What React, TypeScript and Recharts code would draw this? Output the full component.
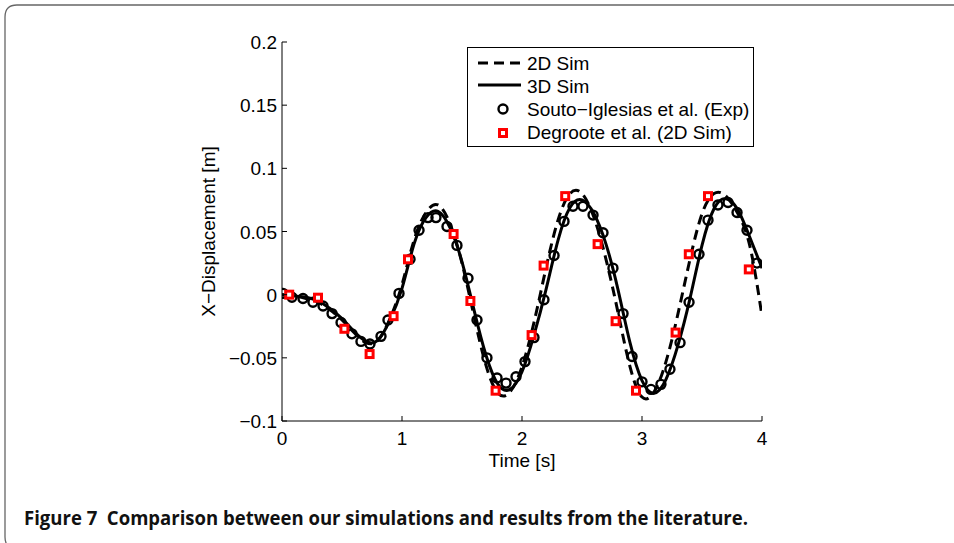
import React from 'react';
import { ComposedChart, Line, Scatter, XAxis, YAxis, Legend } from 'recharts';

// ---- data ----
const simTimes = [
  0.0, 0.1, 0.2, 0.3, 0.4, 0.5, 0.6, 0.7, 0.8, 0.9,
  1.0, 1.1, 1.2, 1.3, 1.4, 1.5, 1.6, 1.7, 1.8, 1.9,
  2.0, 2.1, 2.2, 2.3, 2.4, 2.5, 2.6, 2.7, 2.8, 2.9,
  3.0, 3.1, 3.2, 3.3, 3.4, 3.5, 3.6, 3.7, 3.8, 3.9, 4.0,
];
const sim2D = [
  0.0, -0.001, -0.003, -0.006, -0.012, -0.02, -0.03, -0.038, -0.036, -0.019,
  0.008, 0.043, 0.065, 0.071, 0.056, 0.025, -0.017, -0.056, -0.078, -0.077,
  -0.057, -0.022, 0.021, 0.059, 0.08, 0.08, 0.061, 0.028, -0.014, -0.057,
  -0.081, -0.077, -0.053, -0.015, 0.028, 0.064, 0.08, 0.078, 0.064, 0.038, -0.017,
];
const sim3D = [
  0.0, -0.001, -0.002, -0.005, -0.011, -0.019, -0.029, -0.037, -0.036, -0.02,
  0.005, 0.04, 0.061, 0.066, 0.053, 0.026, -0.012, -0.048, -0.071, -0.075,
  -0.061, -0.032, 0.004, 0.043, 0.069, 0.075, 0.064, 0.04, 0.004, -0.038,
  -0.068, -0.078, -0.067, -0.04, -0.003, 0.039, 0.068, 0.076, 0.067, 0.045, 0.021,
];
const expTimes = [
  0.008, 0.083, 0.175, 0.258, 0.342, 0.417, 0.492, 0.583, 0.658, 0.733,
  0.825, 0.883, 0.975, 1.067, 1.142, 1.217, 1.283, 1.375, 1.458, 1.55,
  1.625, 1.708, 1.792, 1.867, 1.95, 2.025, 2.1, 2.183, 2.267, 2.35,
  2.425, 2.508, 2.592, 2.675, 2.758, 2.842, 2.917, 3.0, 3.075, 3.158,
  3.233, 3.317, 3.392, 3.475, 3.55, 3.633, 3.717, 3.792, 3.875, 3.958,
];
const expValues = [
  0.001, -0.002, -0.003, -0.006, -0.009, -0.015, -0.022, -0.031, -0.037, -0.039,
  -0.033, -0.02, 0.001, 0.028, 0.051, 0.061, 0.061, 0.054, 0.039, 0.013,
  -0.02, -0.05, -0.066, -0.07, -0.065, -0.053, -0.034, -0.004, 0.031, 0.058,
  0.07, 0.07, 0.063, 0.049, 0.021, -0.015, -0.049, -0.069, -0.075, -0.071,
  -0.059, -0.038, -0.006, 0.032, 0.059, 0.071, 0.073, 0.065, 0.051, 0.025,
];
const degTimes = [
  0.06, 0.3, 0.52, 0.73, 0.93, 1.05, 1.43, 1.57, 1.78, 2.08,
  2.18, 2.36, 2.63, 2.78, 2.95, 3.28, 3.39, 3.55, 3.89,
];
const degValues = [
  0.0, -0.0024, -0.027, -0.047, -0.017, 0.028, 0.048, -0.005, -0.076, -0.032,
  0.023, 0.078, 0.04, -0.021, -0.076, -0.03, 0.032, 0.078, 0.02,
];
const xTicks = [0, 1, 2, 3, 4];
const xTickLabels = ['0', '1', '2', '3', '4'];
const yTicks = [-0.1, -0.05, 0, 0.05, 0.1, 0.15, 0.2];
const yTickLabels = ['\u22120.1', '\u22120.05', '0', '0.05', '0.1', '0.15', '0.2'];
const seriesNames = ['2D Sim', '3D Sim', 'Souto\u2212Iglesias et al. (Exp)', 'Degroote et al. (2D Sim)'];
const xLabel = 'Time [s]';
const yLabel = 'X\u2212Displacement [m]';
const caption = 'Figure 7  Comparison between our simulations and results from the literature.';

const data2D = simTimes.map((t, i) => ({ t, v: sim2D[i] }));
const data3D = simTimes.map((t, i) => ({ t, v: sim3D[i] }));
const dataExp = expTimes.map((t, i) => ({ t, v: expValues[i] }));
const dataDeg = degTimes.map((t, i) => ({ t, v: degValues[i] }));

const FONT = '"Liberation Sans", Arial, Helvetica, sans-serif';
const FS = 19;

const XTick = (props: any) => {
  const { x, y, payload } = props;
  const i = xTicks.indexOf(payload.value);
  return (
    <g>
      <line x1={x} y1={y} x2={x} y2={y - 5} stroke="#000" strokeWidth={1} />
      <text x={x} y={y + 24} textAnchor="middle" fontSize={FS} fontFamily={FONT} fill="#000">
        {xTickLabels[i]}
      </text>
    </g>
  );
};

const YTick = (props: any) => {
  const { x, y, payload } = props;
  const i = yTicks.indexOf(payload.value);
  return (
    <g>
      <line x1={x} y1={y} x2={x + 5} y2={y} stroke="#000" strokeWidth={1} />
      <text x={x - 5} y={y + 7} textAnchor="end" fontSize={FS} fontFamily={FONT} fill="#000">
        {yTickLabels[i]}
      </text>
    </g>
  );
};

const XLabel = (props: any) => {
  const { viewBox } = props;
  const cx = viewBox.x + viewBox.width / 2;
  return (
    <text x={cx} y={viewBox.y + 46} textAnchor="middle" fontSize={FS} fontFamily={FONT} fill="#000">
      {xLabel}
    </text>
  );
};

const YLabel = (props: any) => {
  const { viewBox } = props;
  const cx = viewBox.x + viewBox.width - 74;
  const cy = viewBox.y + viewBox.height / 2;
  return (
    <text
      x={cx}
      y={cy}
      transform={`rotate(-90 ${cx} ${cy})`}
      textAnchor="middle"
      dominantBaseline="central"
      fontSize={FS}
      fontFamily={FONT}
      fill="#000"
    >
      {yLabel}
    </text>
  );
};

const Circ = (props: any) => {
  const { cx, cy } = props;
  return <circle cx={cx} cy={cy} r={4.5} fill="none" stroke="#000" strokeWidth={2.4} />;
};

const Sq = (props: any) => {
  const { cx, cy } = props;
  return <rect x={cx - 3.5} y={cy - 3.5} width={7} height={7} fill="#fff" stroke="#ff0000" strokeWidth={3} />;
};

const LegendBox = () => (
  <svg width={288} height={101} style={{ display: 'block', overflow: 'visible' }}>
    <rect x={0.5} y={0.5} width={286} height={99} fill="#fff" stroke="#000" strokeWidth={1} />
    <line x1={11} y1={16} x2={54} y2={16} stroke="#000" strokeWidth={3} strokeDasharray="10 6" />
    <line x1={11} y1={38} x2={54} y2={38} stroke="#000" strokeWidth={3} />
    <circle cx={36} cy={62} r={4.5} fill="none" stroke="#000" strokeWidth={2.4} />
    <rect x={32.5} y={82.5} width={7} height={7} fill="#fff" stroke="#ff0000" strokeWidth={3} />
    {seriesNames.map((n, i) => (
      <text key={n} x={60} y={16 + i * 23 + 7} fontSize={FS} fontFamily={FONT} fill="#000">
        {n}
      </text>
    ))}
  </svg>
);

export default function App() {
  return (
    <div style={{ position: 'absolute', left: 0, top: 0, width: 954, height: 543, background: '#fff' }}>
      <ComposedChart
        width={954}
        height={543}
        margin={{ top: 42, right: 192, bottom: 92, left: 222 }}
        style={{ position: 'absolute', left: 0, top: 0 }}
      >
        <XAxis
          dataKey="t"
          type="number"
          domain={[0, 4]}
          ticks={xTicks}
          allowDataOverflow
          height={30}
          tickSize={0}
          tickMargin={0}
          tickLine={false}
          tick={<XTick />}
          axisLine={{ stroke: '#000', strokeWidth: 1 }}
          label={<XLabel />}
          interval={0}
        />
        <YAxis
          dataKey="v"
          type="number"
          domain={[-0.1, 0.2]}
          ticks={yTicks}
          allowDataOverflow
          width={60}
          tickSize={0}
          tickMargin={0}
          tickLine={false}
          tick={<YTick />}
          axisLine={{ stroke: '#000', strokeWidth: 1 }}
          label={<YLabel />}
          interval={0}
        />
        <Legend
          content={() => (
            <div style={{ width: 0, height: 0, overflow: 'visible' }}>
              <LegendBox />
            </div>
          )}
          wrapperStyle={{
            position: 'absolute',
            left: 467,
            top: 47,
            width: 0,
            height: 0,
            margin: 0,
            padding: 0,
            overflow: 'visible',
          }}
        />
        <Line
          data={data2D}
          dataKey="v"
          name={seriesNames[0]}
          type="natural"
          stroke="#000"
          strokeWidth={3}
          strokeDasharray="10 6"
          dot={false}
          activeDot={false}
          isAnimationActive={false}
        />
        <Line
          data={data3D}
          dataKey="v"
          name={seriesNames[1]}
          type="natural"
          stroke="#000"
          strokeWidth={3}
          dot={false}
          activeDot={false}
          isAnimationActive={false}
        />
        <Scatter data={dataExp} dataKey="v" name={seriesNames[2]} shape={<Circ />} isAnimationActive={false} />
        <Scatter data={dataDeg} dataKey="v" name={seriesNames[3]} shape={<Sq />} isAnimationActive={false} />
      </ComposedChart>
      <svg
        width={954}
        height={543}
        style={{ position: 'absolute', left: 0, top: 0, pointerEvents: 'none' }}
      >
        <path d="M 17 549 Q 5 549 5 537 L 5 17 Q 5 5 17 5 L 960 5" fill="none" stroke="#666" strokeWidth={1.3} />
        <text
          x={24}
          y={525}
          fontSize={19}
          fontWeight={700}
          fontFamily='"Open Sans", "Noto Sans", sans-serif'
          textLength={724}
          lengthAdjust="spacingAndGlyphs"
          fill="#111"
          style={{ whiteSpace: 'pre' }}
        >
          {caption}
        </text>
      </svg>
    </div>
  );
}
